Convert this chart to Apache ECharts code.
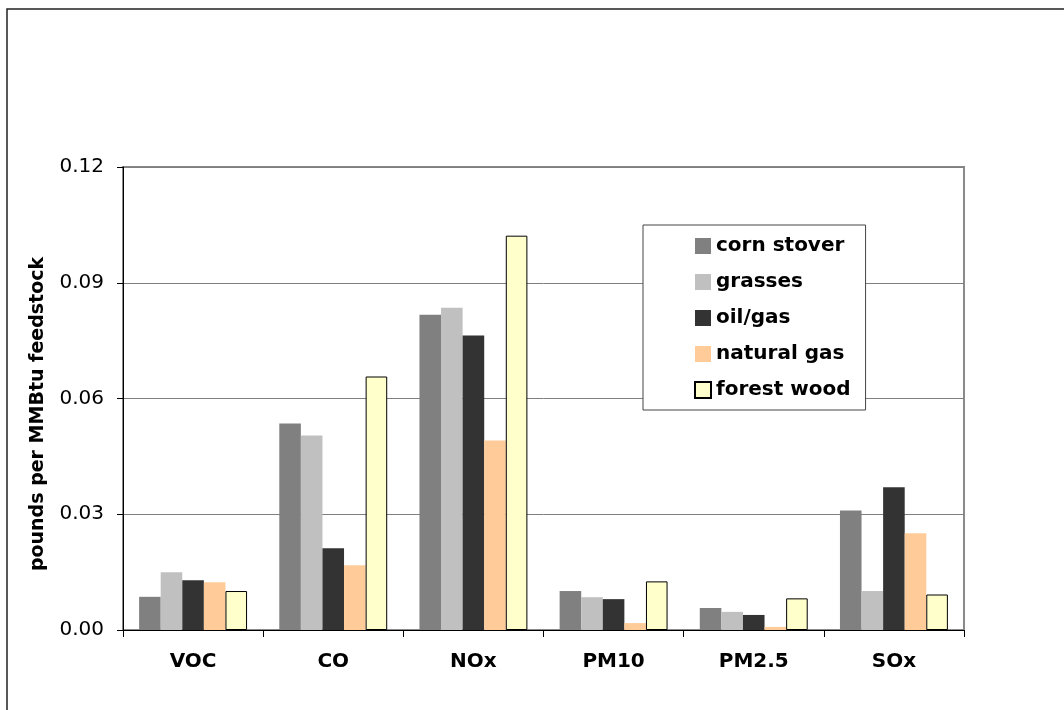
<!DOCTYPE html>
<html>
<head>
<meta charset="utf-8">
<title>Emissions per MMBtu feedstock</title>
<script src="https://cdn.jsdelivr.net/npm/echarts@6/dist/echarts.min.js"></script>
<style>
  html, body { margin: 0; padding: 0; background: #fff; }
  #chart { width: 1064px; height: 710px; }
</style>
</head>
<body>
<div id="chart"></div>
<script>
// Pollutant categories along the x axis
const categories = ['VOC', 'CO', 'NOx', 'PM10', 'PM2.5', 'SOx'];

// Emissions, pounds per MMBtu feedstock, one array per feedstock
const cornStover = [0.0086, 0.0535, 0.0817, 0.0101, 0.0057, 0.0310];
const grasses    = [0.0150, 0.0504, 0.0835, 0.0085, 0.0047, 0.0101];
const oilGas     = [0.0129, 0.0212, 0.0763, 0.0080, 0.0039, 0.0370];
const naturalGas = [0.0124, 0.0168, 0.0491, 0.0018, 0.0008, 0.0251];
const forestWood = [0.0101, 0.0657, 0.1022, 0.0126, 0.0082, 0.0092];

// Y axis ticks
const yTicks = [0, 0.03, 0.06, 0.09, 0.12];

const FONT = 'DejaVu Sans';

const chart = echarts.init(document.getElementById('chart'), null, { renderer: 'canvas' });

function bar(name, data, color, bordered) {
  return {
    name: name,
    type: 'bar',
    data: data,
    barGap: '0%',
    barCategoryGap: '23%',
    itemStyle: bordered
      ? { color: color, borderColor: '#000', borderWidth: 1 }
      : { color: color },
    emphasis: { disabled: true }
  };
}

chart.setOption({
  backgroundColor: '#fff',
  animation: false,
  grid: {
    left: 123, top: 167, right: 100, bottom: 80,
    show: true, borderColor: '#8a8a8a', borderWidth: 2, backgroundColor: 'transparent'
  },
  graphic: [
    // outer frame of the chart area
    { type: 'polyline', shape: { points: [[7, 710], [7, 9], [1064, 9]] },
      style: { stroke: '#222', lineWidth: 1.5, fill: null }, silent: true },
    // y axis title
    { type: 'text', x: 38, y: 414, rotation: Math.PI / 2,
      style: { text: 'pounds per MMBtu feedstock', font: 'bold 19px "' + FONT + '"',
               fill: '#000', align: 'center', verticalAlign: 'middle' }, silent: true }
  ],
  legend: {
    orient: 'vertical',
    left: 643, top: 225,
    padding: [11, 15, 10, 51],
    itemGap: 16,
    itemWidth: 16, itemHeight: 16,
    icon: 'rect',
    backgroundColor: '#fff',
    borderColor: '#444', borderWidth: 1,
    textStyle: { fontFamily: FONT, fontWeight: 'bold', fontSize: 20, color: '#000' },
    data: ['corn stover', 'grasses', 'oil/gas', 'natural gas', 'forest wood']
  },
  xAxis: {
    type: 'category',
    data: categories,
    axisLine: { lineStyle: { color: '#000', width: 1 } },
    axisTick: { show: true, length: 7, lineStyle: { color: '#000' } },
    axisLabel: { fontFamily: FONT, fontWeight: 'bold', fontSize: 20, color: '#000', margin: 22 },
    splitLine: { show: false }
  },
  yAxis: {
    type: 'value',
    min: yTicks[0], max: yTicks[yTicks.length - 1], interval: 0.03,
    axisLine: { show: true, lineStyle: { color: '#000', width: 1 } },
    axisTick: { show: true, length: 6, lineStyle: { color: '#000' } },
    axisLabel: {
      fontFamily: FONT, fontSize: 20, color: '#000', margin: 19,
      formatter: v => v.toFixed(2)
    },
    splitLine: { show: true, lineStyle: { color: '#7f7f7f', width: 1 } }
  },
  series: [
    bar('corn stover', cornStover, '#808080', false),
    bar('grasses', grasses, '#C0C0C0', false),
    bar('oil/gas', oilGas, '#333333', false),
    bar('natural gas', naturalGas, '#FFCC99', false),
    bar('forest wood', forestWood, '#FFFFCC', true)
  ]
});
</script>
</body>
</html>
